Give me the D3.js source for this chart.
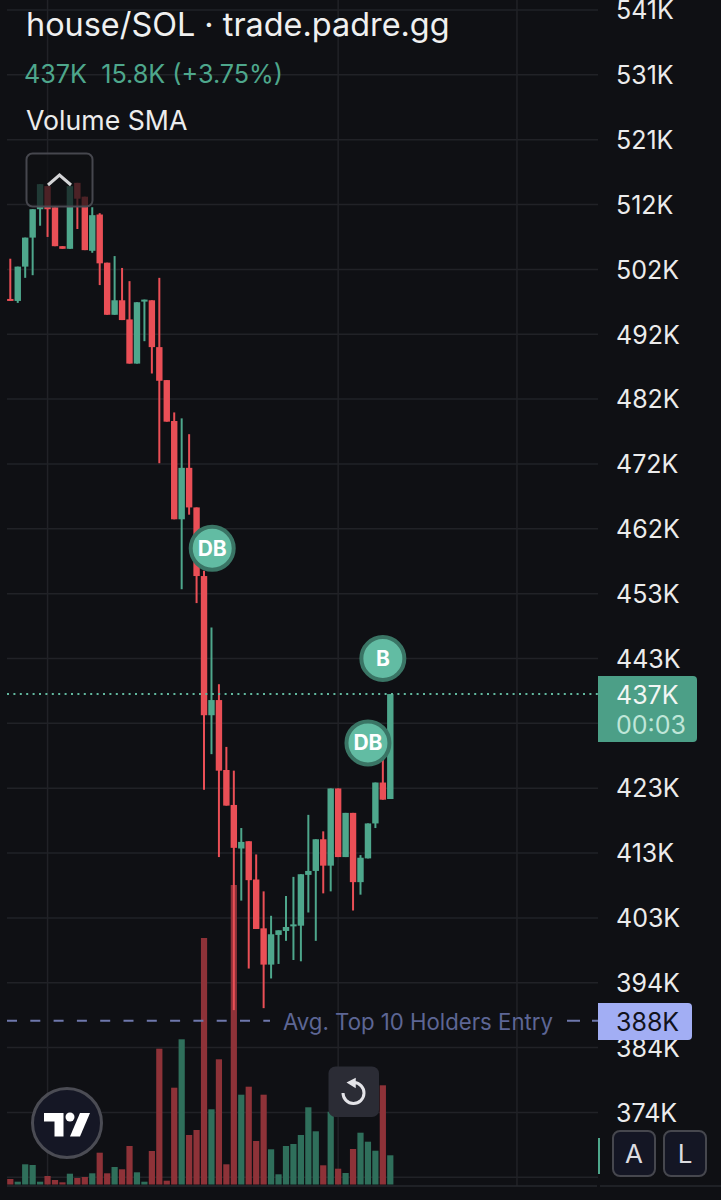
<!DOCTYPE html>
<html><head><meta charset="utf-8">
<script src="https://cdn.jsdelivr.net/npm/d3@7/dist/d3.min.js"></script>
<style>html,body{margin:0;padding:0;background:#0f1014}svg{display:block}text{font-family:Inter,"Noto Sans",sans-serif}</style>
</head><body><svg id="c" width="721" height="1200"></svg>
<script>
const opens =[497.2,496.9,502.1,506.5,510.8,514.3,511.1,505.2,504.8,514.8,512.7,504.5,510.0,502.7,494.8,497.0,494.1,487.4,496.8,497.0,489.9,484.9,478.7,463.8,471.6,465.6,455.2,434.1,436.4,425.8,420.5,413.9,415.0,409.2,401.8,396.3,400.8,401.4,402.1,402.2,409.9,410.5,415.3,411.3,423.0,412.6,419.3,408.8,412.4,417.7,423.9,421.4];
const highs =[503.3,502.1,506.5,510.8,514.6,514.3,511.1,505.2,514.3,514.8,512.7,511.1,510.2,502.7,503.7,501.9,499.9,496.7,497.1,497.0,500.4,484.9,480.0,479.1,476.7,465.6,456.0,447.4,438.8,429.3,425.7,417.0,415.0,413.0,407.4,403.7,401.5,406.7,409.6,410.0,419.0,415.3,416.5,423.0,423.0,419.3,419.3,412.9,417.7,423.9,431.1,437.3];
const lows  =[496.9,496.6,500.4,500.8,508.3,506.6,505.2,504.8,504.8,507.8,504.6,504.2,499.3,494.8,494.8,494.0,487.4,487.4,490.8,485.9,472.3,478.6,463.8,453.2,464.5,451.1,422.8,428.2,412.6,420.4,389.4,406.0,395.7,401.7,389.7,394.2,396.4,399.9,397.0,396.8,404.2,399.9,407.1,407.4,412.6,412.6,404.5,406.9,412.4,417.0,421.3,421.4];
const closes=[496.9,502.1,506.5,510.8,514.6,510.8,505.2,504.8,514.3,512.4,504.6,509.9,502.6,494.8,497.0,494.0,487.4,496.7,497.1,489.9,484.8,478.6,463.8,471.6,465.6,455.2,434.1,436.4,425.7,420.4,414.0,414.9,409.1,401.7,396.3,400.9,401.5,402.0,402.4,410.0,410.5,415.3,411.3,423.0,412.6,419.3,408.8,412.5,417.7,423.9,421.3,437.3];
const volumes=[5.5,2.8,20.2,19.5,2.8,8.5,4.5,2.2,10.8,6.5,7.5,11.2,31.8,11.2,17.5,15.2,38.5,12.2,2.8,33.5,135.8,3.8,96.8,145.2,49.5,54.5,246.5,75.2,125.2,20.2,299.5,89.8,97.8,43.5,89.8,35.2,10.2,38.5,40.5,49.5,77.2,53.2,19.2,72.8,15.8,11.5,35.5,51.8,42.8,33.8,99.2,29.2];
const tickVals=[541,531.17,521.34,511.51,501.68,491.85,482.02,472.19,462.36,452.53,442.7,423.04,413.21,403.38,393.55,383.72,373.89];
const extraGrid=[432.87,364.06];
const timeGrid=[5,44,68];
const lastPrice=437.3, entryPrice=387.8;
const buys=[{i:27.1,p:459.4,t:"DB"},{i:48,p:429.9,t:"DB"},{i:50,p:442.7,t:"B"}];
const title="house/SOL · trade.padre.gg", legend="437K  15.8K (+3.75%)", indicator="Volume SMA";
const entryLabel="Avg. Top 10 Holders Entry";

const UP="#4ea78c",DOWN="#ea4f56",VUP="#2f6f5b",VDOWN="#8e3238",GRID="#212227",BG="#0f1014";
const svg=d3.select("#c");
svg.append("rect").attr("width",721).attr("height",1200).attr("fill",BG);
const x=d3.scaleLinear().domain([0,51]).range([10.3,390.3]);
const y=d3.scaleLinear().domain([541,373.89]).range([10,1112.45]);
const yV=d3.scaleLinear().domain([0,300]).range([1184.5,884.5]);
const R=598,L=7;

// grid
const g=svg.append("g");
g.selectAll("line.h").data(tickVals.concat(extraGrid)).join("line").attr("class","h").attr("x1",L).attr("x2",R)
 .attr("y1",d=>y(d)).attr("y2",d=>y(d)).attr("stroke",GRID).attr("stroke-width",1.5);
g.selectAll("line.v").data(timeGrid).join("line").attr("class","v").attr("x1",d=>x(d)).attr("x2",d=>x(d))
 .attr("y1",0).attr("y2",1186).attr("stroke",GRID).attr("stroke-width",1.5);
g.append("line").attr("x1",7).attr("x2",597).attr("y1",1186).attr("y2",1186).attr("stroke","#26272d").attr("stroke-width",1.5);
g.append("line").attr("x1",600).attr("x2",721).attr("y1",1186).attr("y2",1186).attr("stroke","#26272d").attr("stroke-width",1.5);

// volume
const idx=d3.range(volumes.length);
svg.append("g").selectAll("rect").data(idx).join("rect")
 .attr("x",i=>x(i)-3.1).attr("width",6.2).attr("y",i=>yV(volumes[i])).attr("height",i=>yV(0)-yV(volumes[i]))
 .attr("fill",i=>closes[i]>=opens[i]?VUP:VDOWN);

// candles
const cg=svg.append("g");
cg.selectAll("line").data(idx).join("line").attr("x1",i=>x(i)).attr("x2",i=>x(i))
 .attr("y1",i=>y(highs[i])).attr("y2",i=>y(lows[i])).attr("stroke-width",2)
 .attr("stroke",i=>closes[i]>=opens[i]?UP:DOWN);
cg.selectAll("rect").data(idx).join("rect").attr("x",i=>x(i)-3.2).attr("width",6.4)
 .attr("y",i=>y(Math.max(opens[i],closes[i])))
 .attr("height",i=>Math.max(2,Math.abs(y(opens[i])-y(closes[i]))))
 .attr("fill",i=>closes[i]>=opens[i]?UP:DOWN);

// price lines
svg.append("line").attr("x1",L).attr("x2",R).attr("y1",y(lastPrice)).attr("y2",y(lastPrice))
 .attr("stroke","#62b89f").attr("stroke-width",2).attr("stroke-dasharray","2 4.4");
const eY=y(entryPrice);
svg.append("line").attr("x1",7).attr("x2",270).attr("y1",eY).attr("y2",eY)
 .attr("stroke","#6f78ad").attr("stroke-width",2).attr("stroke-dasharray","10 13.3");
svg.append("line").attr("x1",567).attr("x2",598).attr("y1",eY).attr("y2",eY)
 .attr("stroke","#6f78ad").attr("stroke-width",2).attr("stroke-dasharray","13 12");
svg.append("text").attr("x",283).attr("y",eY+9).attr("font-size",22.2).attr("fill","#5d6695").text(entryLabel);

// buy markers
const mg=svg.append("g").selectAll("g").data(buys).join("g")
 .attr("transform",d=>`translate(${x(d.i)},${y(d.p)})`);
mg.append("circle").attr("r",21.5).attr("fill","#62bca3").attr("stroke","#3a7565").attr("stroke-width",4);
mg.append("text").attr("text-anchor","middle").attr("y",7.5).attr("font-size",21).attr("font-weight",700).attr("fill","#fff").text(d=>d.t);

// axis
const ax=d3.axisRight(y).tickValues(tickVals).tickSize(0).tickPadding(0).tickFormat(d=>Math.round(d)+"K");
const ag=svg.append("g").attr("transform","translate(616,0)").call(ax);
ag.select(".domain").remove();
ag.selectAll("text").attr("font-size",25).attr("fill","#ececec").attr("font-family","Inter").attr("x",0).attr("dy","0.35em");

// price boxes
svg.append("path").attr("d","M598 676H693a4 4 0 0 1 4 4V738a4 4 0 0 1 -4 4H598Z").attr("fill","#4c9f87");
svg.append("text").attr("x",616).attr("y",704).attr("font-size",25).attr("fill","#f2f6f4").text(Math.round(lastPrice)+"K");
svg.append("text").attr("x",616).attr("y",734).attr("font-size",25).attr("fill","#bfe6d8").text("00:03");
svg.append("path").attr("d","M598 1003H688a4 4 0 0 1 4 4V1036a4 4 0 0 1 -4 4H598Z").attr("fill","#a2aef4");
svg.append("text").attr("x",616).attr("y",1031).attr("font-size",25).attr("fill","#12131c").text(Math.round(entryPrice)+"K");

// header
svg.append("text").attr("x",26).attr("y",36).attr("font-size",32.4).attr("fill","#f0f0f0").text(title);
svg.append("text").attr("x",24).attr("y",83).attr("font-size",25.2).attr("fill","#4ea78c").style("white-space","pre").text(legend);
svg.append("text").attr("x",26).attr("y",130).attr("font-size",26.7).attr("fill","#ececec").text(indicator);

// collapse button
svg.append("rect").attr("x",26.5).attr("y",153.5).attr("width",66).attr("height",53).attr("rx",6)
 .attr("fill","rgba(15,16,20,0.72)").attr("stroke","#46474e").attr("stroke-width",2);
svg.append("path").attr("d","M48 185L59.5 175L71 185").attr("fill","none").attr("stroke","#d4d4d6").attr("stroke-width",3);

// logo
svg.append("circle").attr("cx",67).attr("cy",1123).attr("r",34.5).attr("fill","#151725").attr("stroke","#4b4c54").attr("stroke-width",3);
svg.append("path").attr("d","M44 1113H63.5V1136.5H54.5V1121.5H44Z").attr("fill","#fff");
svg.append("circle").attr("cx",70).attr("cy",1117).attr("r",4.5).attr("fill","#fff");
svg.append("path").attr("d","M80 1113H90L80 1136.5H70Z").attr("fill","#fff");

// reset button
svg.append("rect").attr("x",328.5).attr("y",1066.5).attr("width",50.5).attr("height",50.5).attr("rx",7).attr("fill","#2b2c35");
svg.append("path").attr("d","M354 1082.5A10.5 10.5 0 1 1 343 1093").attr("fill","none").attr("stroke","#e4e4e8").attr("stroke-width",3);
svg.append("path").attr("d","M355 1079V1087L348 1082.5Z").attr("fill","#e4e4e8").attr("stroke","#e4e4e8").attr("stroke-width",1.5);

// scale tick + A / L
svg.append("line").attr("x1",599).attr("x2",599).attr("y1",1138).attr("y2",1174).attr("stroke","#4ea78c").attr("stroke-width",2);
[["A",613],["L",664]].forEach(([t,bx])=>{
 svg.append("rect").attr("x",bx).attr("y",1131).attr("width",42).attr("height",45).attr("rx",7).attr("fill","#141624").attr("stroke","#46474e").attr("stroke-width",2);
 svg.append("text").attr("x",bx+21).attr("y",1163).attr("text-anchor","middle").attr("font-size",26).attr("fill","#dcdce0").text(t);
});
</script></body></html>
